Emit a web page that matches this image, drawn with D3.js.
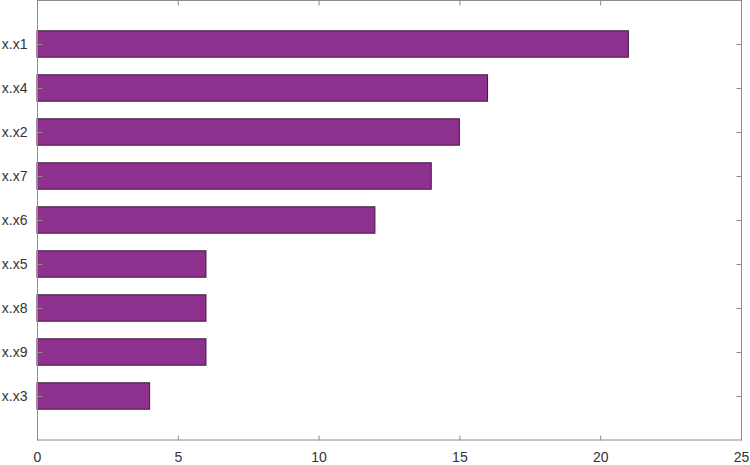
<!DOCTYPE html>
<html><head><meta charset="utf-8">
<script src="https://cdn.jsdelivr.net/npm/d3@7"></script>
<style>body{margin:0;background:#fff}svg{display:block}text{font-family:"Liberation Sans",Arial,sans-serif;}</style>
</head><body><svg id="c" width="750" height="465"></svg>
<script>
const categories = ["x.x1","x.x4","x.x2","x.x7","x.x6","x.x5","x.x8","x.x9","x.x3"];
const values = [21,16,15,14,12,6,6,6,4];
const xTicks = [0,5,10,15,20,25];

const svg = d3.select("#c");
const L=37, R=741, T=0, B=440;
const x = d3.scaleLinear().domain([0,25]).range([L,R]);
const y = d3.scaleLinear().domain([0,10]).range([T,B]);
const bh = 0.6*(y(1)-y(0));
const axisCol="#8c8c8c", txtCol="#333";

svg.append("g").selectAll("rect").data(values).join("rect")
  .attr("x", x(0)).attr("y",(d,i)=>y(i+1)-bh/2)
  .attr("width", d=>x(d)-x(0)).attr("height", bh)
  .attr("fill","#8e318e").attr("stroke","#3d1a3d").attr("stroke-width",1);

// box
svg.append("rect").attr("x",L+0.5).attr("y",T+0.5).attr("width",R-L).attr("height",B-T-0.5)
  .attr("fill","none").attr("stroke",axisCol).attr("stroke-width",1);

const tl=5;
const bx = d3.axisBottom(x).tickValues(xTicks).tickSize(-tl).tickPadding(12);
const gb = svg.append("g").attr("transform",`translate(0,${B+0.5})`).call(bx);
gb.select(".domain").remove();
gb.selectAll("line").attr("stroke",axisCol);
gb.selectAll("text").attr("fill",txtCol).style("font-size","14px").attr("dy","0.71em");
const gt = svg.append("g").attr("transform",`translate(0,${T+0.5})`).call(d3.axisTop(x).tickValues(xTicks).tickSize(-tl).tickFormat(""));
gt.select(".domain").remove(); gt.selectAll("line").attr("stroke",axisCol);

const yl = d3.axisLeft(y).tickValues(d3.range(1,10)).tickSize(-tl).tickPadding(10).tickFormat(d=>categories[d-1]);
const gl = svg.append("g").attr("transform",`translate(${L+0.5},0)`).call(yl);
gl.select(".domain").remove(); gl.selectAll("line").attr("stroke",axisCol);
gl.selectAll("text").attr("fill",txtCol).style("font-size","14px");
const gr = svg.append("g").attr("transform",`translate(${R+0.5},0)`).call(d3.axisRight(y).tickValues(d3.range(1,10)).tickSize(-tl).tickFormat(""));
gr.select(".domain").remove(); gr.selectAll("line").attr("stroke",axisCol);
gl.raise(); 
</script></body></html>
